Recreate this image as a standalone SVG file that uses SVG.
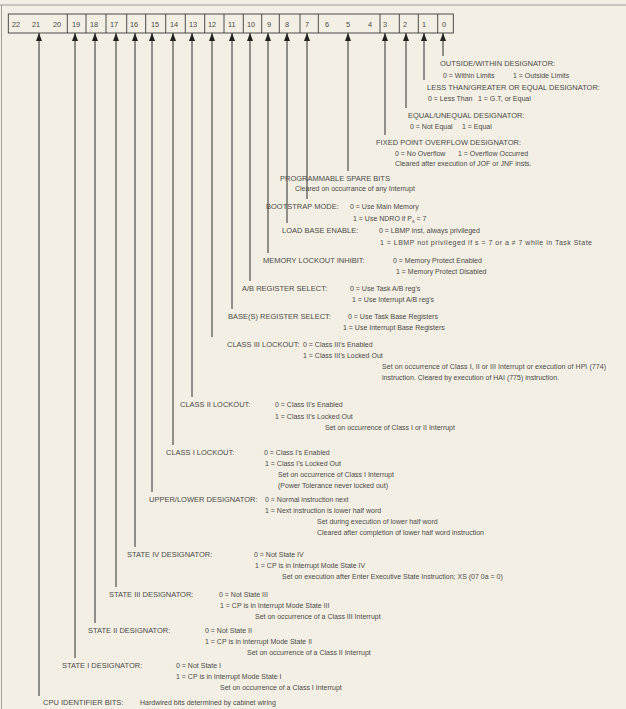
<svg xmlns="http://www.w3.org/2000/svg" width="626" height="709" viewBox="0 0 626 709">
<style>
text{font-family:"Liberation Sans",Arial,sans-serif;fill:#4a4a4a}
.l{font-size:7.5px}
.d{font-size:7px}
.n{font-size:7.4px}
.c{stroke:#2e2e2e;stroke-width:1;fill:none}
.box{fill:none;stroke:#3a3a3a;stroke-width:0.9}
</style>
<defs>
<marker id="ah" viewBox="0 0 8 6" refX="8" refY="3" markerWidth="8" markerHeight="6" markerUnits="userSpaceOnUse" orient="auto"><path d="M0,0 L8,3 L0,6 z" fill="#222"/></marker>
</defs>
<rect width="626" height="709" fill="#f3efe4"/>
<line x1="0" y1="5" x2="626" y2="5" stroke="#8a8a8a" stroke-width="0.8"/>
<line x1="1.5" y1="5" x2="1.5" y2="709" stroke="#8a8a8a" stroke-width="0.8"/>
<g id="register">
<rect class="box" x="8.3" y="14" width="445" height="19"/>
<path class="box" d="M67.3,14V33M86,14V33M106,14V33M126.7,14V33M145.7,14V33M165.7,14V33M185.3,14V33M204.7,14V33M224,14V33M243.3,14V33M261.7,14V33M279.3,14V33M300,14V33M318.3,14V33M380,14V33M399.3,14V33M418.3,14V33M437.7,14V33"/>
<text class="n" x="12" y="26.5">22</text><text class="n" x="32" y="26.5">21</text><text class="n" x="53" y="26.5">20</text>
<text class="n" x="72" y="26.5">19</text><text class="n" x="90" y="26.5">18</text><text class="n" x="110" y="26.5">17</text>
<text class="n" x="130" y="26.5">16</text><text class="n" x="151" y="26.5">15</text><text class="n" x="170" y="26.5">14</text>
<text class="n" x="189" y="26.5">13</text><text class="n" x="208" y="26.5">12</text><text class="n" x="228" y="26.5">11</text>
<text class="n" x="247" y="26.5">10</text><text class="n" x="267" y="26.5">9</text><text class="n" x="285" y="26.5">8</text>
<text class="n" x="305" y="26.5">7</text><text class="n" x="325" y="26.5">6</text><text class="n" x="346" y="26.5">5</text>
<text class="n" x="368" y="26.5">4</text><text class="n" x="383" y="26.5">3</text><text class="n" x="403" y="26.5">2</text>
<text class="n" x="422" y="26.5">1</text><text class="n" x="442" y="26.5">0</text>
</g>
<g id="connectors">
<line class="c" x1="443" y1="56" x2="443" y2="33" marker-end="url(#ah)"/>
<line class="c" x1="424" y1="80" x2="424" y2="33" marker-end="url(#ah)"/>
<line class="c" x1="406" y1="108" x2="406" y2="33" marker-end="url(#ah)"/>
<line class="c" x1="385" y1="135" x2="385" y2="33" marker-end="url(#ah)"/>
<line class="c" x1="348" y1="171" x2="348" y2="33" marker-end="url(#ah)"/>
<line class="c" x1="307" y1="199" x2="307" y2="33" marker-end="url(#ah)"/>
<line class="c" x1="287" y1="223" x2="287" y2="33" marker-end="url(#ah)"/>
<line class="c" x1="268" y1="253" x2="268" y2="33" marker-end="url(#ah)"/>
<line class="c" x1="250" y1="281" x2="250" y2="33" marker-end="url(#ah)"/>
<line class="c" x1="232" y1="309" x2="232" y2="33" marker-end="url(#ah)"/>
<line class="c" x1="212" y1="337" x2="212" y2="33" marker-end="url(#ah)"/>
<line class="c" x1="192" y1="397" x2="192" y2="33" marker-end="url(#ah)"/>
<line class="c" x1="173" y1="445" x2="173" y2="33" marker-end="url(#ah)"/>
<line class="c" x1="152" y1="492" x2="152" y2="33" marker-end="url(#ah)"/>
<line class="c" x1="135" y1="547" x2="135" y2="33" marker-end="url(#ah)"/>
<line class="c" x1="116" y1="587" x2="116" y2="33" marker-end="url(#ah)"/>
<line class="c" x1="95" y1="623" x2="95" y2="33" marker-end="url(#ah)"/>
<line class="c" x1="75" y1="658" x2="75" y2="33" marker-end="url(#ah)"/>
<line class="c" x1="39" y1="696" x2="39" y2="33" marker-end="url(#ah)"/>
</g>
<g id="bit0">
<text class="l" x="440" y="66">OUTSIDE/WITHIN DESIGNATOR:</text>
<text class="d" x="443" y="78">0 = Within Limits</text><text class="d" x="513" y="78">1 = Outside Limits</text>
</g>
<g id="bit1">
<text class="l" x="427" y="90">LESS THAN/GREATER OR EQUAL DESIGNATOR:</text>
<text class="d" x="428" y="101">0 = Less Than</text><text class="d" x="478" y="101">1 = G.T, or Equal</text>
</g>
<g id="bit2">
<text class="l" x="408" y="118">EQUAL/UNEQUAL DESIGNATOR:</text>
<text class="d" x="410" y="129">0 = Not Equal</text><text class="d" x="462" y="129">1 = Equal</text>
</g>
<g id="bit3">
<text class="l" x="376" y="145">FIXED POINT OVERFLOW DESIGNATOR:</text>
<text class="d" x="395" y="156">0 = No Overflow</text><text class="d" x="458" y="156">1 = Overflow Occurred</text>
<text class="d" x="395" y="166">Cleared after execution of JOF or JNF insts.</text>
</g>
<g id="bits4-6">
<text class="l" x="280" y="181">PROGRAMMABLE SPARE BITS</text>
<text class="d" x="295" y="191">Cleared on occurrance of any Interrupt</text>
</g>
<g id="bit7">
<text class="l" x="266" y="209">BOOTSTRAP MODE:</text><text class="d" x="350" y="209">0 = Use Main Memory</text>
<text class="d" x="353" y="221">1 = Use NDRO if P<tspan dy="1.8" font-size="5">s</tspan><tspan dy="-1.8"> = 7</tspan></text>
</g>
<g id="bit8">
<text class="l" x="282" y="233">LOAD BASE ENABLE:</text><text class="d" x="379" y="233">0 = LBMP inst, always privileged</text>
<text class="d" x="380" y="245" font-size="7.4" textLength="212" lengthAdjust="spacing">1 = LBMP not privileged if s = 7 or a ≠ 7 while in Task State</text>
</g>
<g id="bit9">
<text class="l" x="263" y="263">MEMORY LOCKOUT INHIBIT:</text><text class="d" x="393" y="263">0 = Memory Protect Enabled</text>
<text class="d" x="396" y="274">1 = Memory Protect Disabled</text>
</g>
<g id="bit10">
<text class="l" x="242" y="291">A/B REGISTER SELECT:</text><text class="d" x="350" y="291">0 = Use Task A/B reg's</text>
<text class="d" x="352" y="302">1 = Use Interrupt A/B reg's</text>
</g>
<g id="bit11">
<text class="l" x="228" y="319">BASE(S) REGISTER SELECT:</text><text class="d" x="348" y="319">0 = Use Task Base Registers</text>
<text class="d" x="343" y="330">1 = Use Interrupt Base Registers</text>
</g>
<g id="bit12">
<text class="l" x="227" y="347">CLASS III LOCKOUT:</text><text class="d" x="303" y="347">0 = Class III's Enabled</text>
<text class="d" x="303" y="358">1 = Class III's Locked Out</text>
<text class="d" x="382" y="369" textLength="224" lengthAdjust="spacing">Set on occurrence of Class I, II or III Interrupt or execution of HPI (774)</text>
<text class="d" x="382" y="380">instruction.  Cleared by execution of HAI (775) instruction.</text>
</g>
<g id="bit13">
<text class="l" x="180" y="407">CLASS II LOCKOUT:</text><text class="d" x="275" y="407">0 = Class II's Enabled</text>
<text class="d" x="275" y="419">1 = Class II's Locked Out</text>
<text class="d" x="325" y="430">Set on occurrence of Class I or II Interrupt</text>
</g>
<g id="bit14">
<text class="l" x="166" y="455">CLASS I LOCKOUT:</text><text class="d" x="264" y="455">0 = Class I's Enabled</text>
<text class="d" x="265" y="466">1 = Class I's Locked Out</text>
<text class="d" x="278" y="477">Set on occurrence of Class I Interrupt</text>
<text class="d" x="278" y="488">(Power Tolerance never locked out)</text>
</g>
<g id="bit15">
<text class="l" x="149" y="502">UPPER/LOWER DESIGNATOR:</text><text class="d" x="265" y="502">0 = Normal instruction next</text>
<text class="d" x="265" y="513">1 = Next instruction is lower half word</text>
<text class="d" x="317" y="524">Set during execution of lower half word</text>
<text class="d" x="317" y="535">Cleared after completion of lower half word instruction</text>
</g>
<g id="bit16">
<text class="l" x="127" y="557">STATE IV DESIGNATOR:</text><text class="d" x="254" y="557">0 = Not State IV</text>
<text class="d" x="255" y="568">1 = CP is in Interrupt Mode State IV</text>
<text class="d" x="282" y="579">Set on execution after Enter Executive State Instruction; XS (07 0a = 0)</text>
</g>
<g id="bit17">
<text class="l" x="109" y="597">STATE III DESIGNATOR:</text><text class="d" x="219" y="597">0 = Not State III</text>
<text class="d" x="220" y="608">1 = CP is in Interrupt Mode State III</text>
<text class="d" x="255" y="619">Set on occurrence of a Class III Interrupt</text>
</g>
<g id="bit18">
<text class="l" x="88" y="633">STATE II DESIGNATOR:</text><text class="d" x="205" y="633">0 = Not State II</text>
<text class="d" x="205" y="644">1 = CP is in interrupt Mode State II</text>
<text class="d" x="247" y="655">Set on occurrence of a Class II Interrupt</text>
</g>
<g id="bit19">
<text class="l" x="62" y="668">STATE I DESIGNATOR:</text><text class="d" x="176" y="668">0 = Not State I</text>
<text class="d" x="176" y="679">1 = CP is in Interrupt Mode State I</text>
<text class="d" x="220" y="690">Set on occurrence of a Class I Interrupt</text>
</g>
<g id="bits20-22">
<text class="l" x="43" y="705">CPU IDENTIFIER BITS:</text><text class="d" x="140" y="705">Hardwired bits determined by cabinet wiring</text>
</g>
</svg>
